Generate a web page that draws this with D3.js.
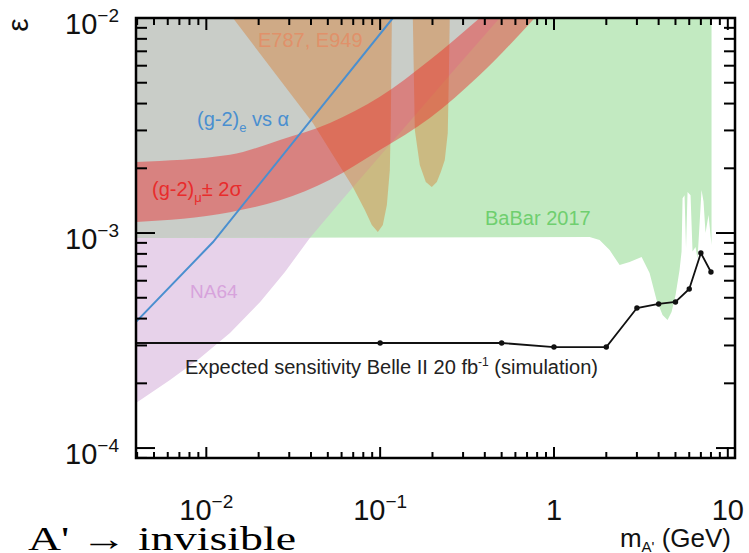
<!DOCTYPE html>
<html><head><meta charset="utf-8">
<script src="https://cdn.jsdelivr.net/npm/d3@7/dist/d3.min.js"></script>
<style>body{margin:0;background:#fff}svg{display:block}text{font-family:"Liberation Sans",Arial,sans-serif}</style>
</head><body>
<script>
// ---------- data (mass in GeV, epsilon) ----------
const massTicks = [0.01, 0.1, 1, 10];
const massTickLabels = [["10","−2"],["10","−1"],["1",""],["10",""]];
const epsTicks = [1e-4, 1e-3, 1e-2];
const epsTickLabels = [["10","−4"],["10","−3"],["10","−2"]];

const na64Mass = [0.00394, 0.00618, 0.0092, 0.01368, 0.0204, 0.02833, 0.0394, 0.0610, 0.1298, 0.2516, 0.4875];
const na64Eps  = [1.62e-4, 2.07e-4, 2.62e-4, 3.43e-4, 4.78e-4, 6.59e-4, 9.48e-4, 1.439e-3, 2.92e-3, 5.43e-3, 1.0e-2];

const babarMass = [0.00394, 1.604, 1.830, 2.090, 2.386, 2.723, 3.192, 3.548, 3.892, 4.214, 4.502, 4.747, 5.005, 5.278, 5.420, 5.492, 5.638, 5.750, 5.867, 6.105, 6.268, 6.522, 6.697, 7.061, 7.250, 7.445, 7.747, 8.061];
const babarEps  = [9.48e-4, 9.58e-4, 9.28e-4, 8.33e-4, 7.10e-4, 7.33e-4, 7.73e-4, 6.52e-4, 4.88e-4, 4.16e-4, 3.94e-4, 4.29e-4, 5.15e-4, 6.73e-4, 8.2e-4, 1.45e-3, 1.50e-3, 8.5e-4, 1.55e-3, 1.50e-3, 8.2e-4, 8.6e-4, 7.6e-4, 1.585e-3, 1.40e-3, 1.0e-3, 1.213e-3, 8.79e-4];

const e787Mass = [0.01423, 0.04103, 0.06967, 0.08166, 0.08958, 0.0970, 0.1036, 0.1093, 0.1137, 0.1152, 0.1168, 0.1542, 0.1583, 0.1691, 0.1831, 0.1982, 0.2118, 0.2233, 0.2354, 0.2449, 0.2482, 0.2515];
const e787Eps  = [1.0e-2, 3.25e-3, 1.637e-3, 1.279e-3, 1.090e-3, 1.011e-3, 1.090e-3, 1.349e-3, 1.963e-3, 3.36e-3, 1.0e-2, 1.0e-2, 3.01e-3, 2.07e-3, 1.727e-3, 1.637e-3, 1.727e-3, 1.923e-3, 2.188e-3, 2.92e-3, 5.15e-3, 1.0e-2];

const gm2muUpperMass = [0.00394, 0.01368, 0.02653, 0.0514, 0.0996, 0.1931, 0.374];
const gm2muUpperEps  = [2.14e-3, 2.31e-3, 2.71e-3, 3.25e-3, 4.30e-3, 6.38e-3, 1.0e-2];
const gm2muLowerMass = [0.00394, 0.01368, 0.02653, 0.0514, 0.0996, 0.1931, 0.374, 0.775];
const gm2muLowerEps  = [1.125e-3, 1.25e-3, 1.42e-3, 1.77e-3, 2.43e-3, 3.43e-3, 5.43e-3, 1.0e-2];

const gm2eMass = [0.00394, 0.01093, 0.1183];
const gm2eEps  = [3.86e-4, 9.08e-4, 1.0e-2];

const belleMass = [0.001, 0.1, 0.5, 1, 2, 3, 4, 5, 6, 7, 8];
const belleEps  = [3.08e-4, 3.08e-4, 3.08e-4, 2.95e-4, 2.95e-4, 4.48e-4, 4.68e-4, 4.78e-4, 5.49e-4, 8.07e-4, 6.59e-4];

// ---------- layout ----------
const W = 749, H = 553;
const L = 136, R = 735, T = 18, B = 458;
const x = d3.scaleLog().domain([0.00394, 11.0]).range([L, R]);
const y = d3.scaleLog().domain([0.0000899, 0.01]).range([B, T]);

const svg = d3.select("body").append("svg").attr("width", W).attr("height", H);
const defs = svg.append("defs");
defs.append("clipPath").attr("id","plotClip").append("rect")
  .attr("x",L).attr("y",T).attr("width",R-L).attr("height",B-T);

const zip = (ms, es) => ms.map((m,i)=>[m, es[i]]);
const line = d3.line().x(d=>x(d[0])).y(d=>y(d[1]));

// polygons
const na64Pts = zip(na64Mass, na64Eps);
na64Pts.push([na64Mass[0], na64Eps[na64Eps.length-1]]);
const babarPts = zip(babarMass, babarEps);
babarPts.push([babarMass[babarMass.length-1], 1.0e-2], [babarMass[0], 1.0e-2]);

defs.append("clipPath").attr("id","babarClip").append("path").attr("d", line(babarPts)+"Z");

const g = svg.append("g").attr("clip-path","url(#plotClip)");

g.append("path").attr("d", line(na64Pts)+"Z").attr("fill","#e7d2ea");
g.append("path").attr("d", line(babarPts)+"Z").attr("fill","#c2eac1");
g.append("path").attr("d", line(na64Pts)+"Z").attr("fill","#c9cdc8").attr("clip-path","url(#babarClip)");

g.append("path").attr("d", line(zip(e787Mass, e787Eps))+"Z")
  .attr("fill","rgb(215,125,50)").attr("fill-opacity",0.44);

// red band
const bandLine = d3.line().x(d=>x(d[0])).y(d=>y(d[1])).curve(d3.curveMonotoneX);
const up = zip(gm2muUpperMass, gm2muUpperEps);
const lo = zip(gm2muLowerMass, gm2muLowerEps);
const bandD = bandLine(up) + "L" + bandLine(lo.slice().reverse()).slice(1) + "Z";
g.append("path").attr("d", bandD).attr("fill","rgb(235,40,40)").attr("fill-opacity",0.45);

// blue line
g.append("path").attr("d", line(zip(gm2eMass, gm2eEps))).attr("fill","none")
  .attr("stroke","#4a8fcf").attr("stroke-width",2);

// Belle II expected
const bel = zip(belleMass, belleEps);
g.append("path").attr("d", line(bel)).attr("fill","none").attr("stroke","#111").attr("stroke-width",1.8);
g.selectAll("circle.bel").data(bel).enter().append("circle").attr("class","bel")
  .attr("cx",d=>x(d[0])).attr("cy",d=>y(d[1])).attr("r",2.7).attr("fill","#111");

// ---------- labels ----------
svg.append("text").attr("x",258).attr("y",47).attr("font-size",20).attr("fill","#e0916a").text("E787, E949");
const ge = svg.append("text").attr("x",197).attr("y",126).attr("font-size",20).attr("fill","#4a8fd0");
ge.append("tspan").text("(g-2)");
ge.append("tspan").attr("font-size",13).attr("dy",6).text("e");
ge.append("tspan").attr("dy",-6).text(" vs α");
const gmu = svg.append("text").attr("x",152).attr("y",196).attr("font-size",20).attr("fill","#e82c2c");
gmu.append("tspan").text("(g-2)");
gmu.append("tspan").attr("font-size",13).attr("dy",6).text("μ");
gmu.append("tspan").attr("dy",-6).text("± 2σ");
svg.append("text").attr("x",485).attr("y",225).attr("font-size",20).attr("fill","#6fcf6f").text("BaBar 2017");
svg.append("text").attr("x",190).attr("y",298).attr("font-size",19).attr("fill","#d7a3dc").text("NA64");
const bt = svg.append("text").attr("x",185).attr("y",374).attr("font-size",20).attr("fill","#222")
  .attr("textLength",413).attr("lengthAdjust","spacingAndGlyphs");
bt.append("tspan").text("Expected sensitivity Belle II 20 fb");
bt.append("tspan").attr("font-size",12).attr("dy",-8).text("-1");
bt.append("tspan").attr("dy",8).text(" (simulation)");

// ---------- frame & ticks ----------
const ax = svg.append("g").attr("stroke","#000").attr("stroke-width",2);
function xMinor(){ const out=[]; for(let d=-3; d<=1; d++) for(let k=2;k<=9;k++){const v=k*Math.pow(10,d); if(v>x.domain()[0]&&v<x.domain()[1]) out.push(v);} return out; }
function yMinor(){ const out=[]; for(let d=-5; d<=-3; d++) for(let k=2;k<=9;k++){const v=k*Math.pow(10,d); if(v>y.domain()[0]&&v<y.domain()[1]) out.push(v);} return out; }
massTicks.forEach(v=>{ ax.append("line").attr("x1",x(v)).attr("x2",x(v)).attr("y1",B).attr("y2",B-11);
                       ax.append("line").attr("x1",x(v)).attr("x2",x(v)).attr("y1",T).attr("y2",T+12); });
xMinor().forEach(v=>{ ax.append("line").attr("x1",x(v)).attr("x2",x(v)).attr("y1",B).attr("y2",B-6);
                      ax.append("line").attr("x1",x(v)).attr("x2",x(v)).attr("y1",T).attr("y2",T+7); });
epsTicks.forEach(v=>{ ax.append("line").attr("x1",L).attr("x2",L+19).attr("y1",y(v)).attr("y2",y(v));
                      ax.append("line").attr("x1",R).attr("x2",R-19).attr("y1",y(v)).attr("y2",y(v)); });
yMinor().forEach(v=>{ ax.append("line").attr("x1",L).attr("x2",L+11).attr("y1",y(v)).attr("y2",y(v));
                      ax.append("line").attr("x1",R).attr("x2",R-11).attr("y1",y(v)).attr("y2",y(v)); });
svg.append("rect").attr("x",L).attr("y",T).attr("width",R-L).attr("height",B-T)
  .attr("fill","none").attr("stroke","#000").attr("stroke-width",2.5);

// tick labels
massTicks.forEach((v,i)=>{
  const t = svg.append("text").attr("x",x(v)).attr("y",520).attr("font-size",29).attr("text-anchor","middle").attr("fill","#111");
  t.append("tspan").text(massTickLabels[i][0]);
  if (massTickLabels[i][1]) t.append("tspan").attr("font-size",19).attr("dy",-12).text(massTickLabels[i][1]);
});
epsTicks.forEach((v,i)=>{
  const t = svg.append("text").attr("x",119).attr("y",y(v)+16).attr("font-size",29).attr("text-anchor","end").attr("fill","#111");
  t.append("tspan").text(epsTickLabels[i][0]);
  t.append("tspan").attr("font-size",19).attr("dy",-12).text(epsTickLabels[i][1]);
});

// axis titles
svg.append("text").attr("transform","translate(17,25) rotate(-90)").attr("text-anchor","middle")
  .attr("dominant-baseline","central").attr("font-size",30).attr("fill","#111").text("ε");
const mt = svg.append("text").attr("x",731).attr("y",547).attr("font-size",26).attr("text-anchor","end").attr("fill","#111");
mt.append("tspan").text("m");
mt.append("tspan").attr("font-size",15).attr("dy",5).text("A'");
mt.append("tspan").attr("dy",-5).text(" (GeV)");
svg.append("text").attr("x",28).attr("y",550).attr("font-size",33).attr("fill","#000")
  .attr("textLength",268).attr("lengthAdjust","spacingAndGlyphs")
  .style("font-family","'Liberation Serif','Times New Roman',serif").text("A' → invisible");
</script>
</body></html>
